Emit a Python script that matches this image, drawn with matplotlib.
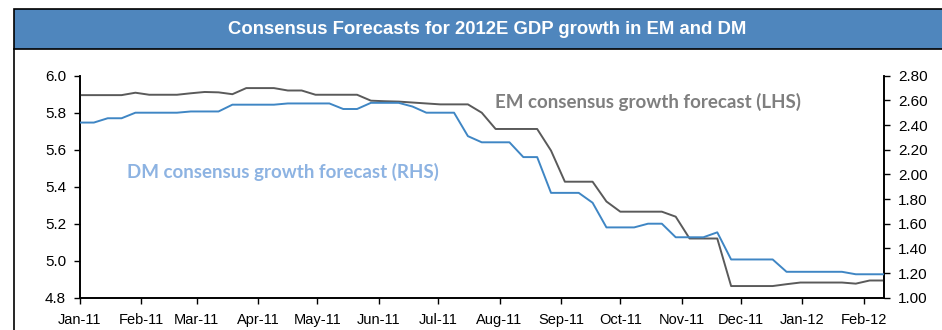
import matplotlib
matplotlib.use("Agg")
import matplotlib.pyplot as plt
import matplotlib.dates as mdates
import matplotlib.ticker as mticker
from matplotlib.patches import Rectangle
from matplotlib.lines import Line2D
import pandas as pd

# Weekly consensus readings, Jan 2011 - Feb 2012
dates = pd.date_range("2011-01-01", periods=59, freq="7D")

em_growth = [5.895, 5.895, 5.895, 5.895, 5.908, 5.897, 5.897, 5.897, 5.905, 5.912,
             5.910, 5.900, 5.933, 5.933, 5.933, 5.920, 5.920, 5.897, 5.897, 5.897,
             5.897, 5.865, 5.862, 5.860, 5.855, 5.850, 5.845, 5.845, 5.845, 5.800,
             5.712, 5.712, 5.712, 5.712, 5.595, 5.427, 5.427, 5.427, 5.320, 5.265,
             5.265, 5.265, 5.265, 5.238, 5.120, 5.120, 5.120, 4.863, 4.863, 4.863,
             4.863, 4.873, 4.882, 4.882, 4.882, 4.882, 4.876, 4.893, 4.893]

dm_growth = [2.42, 2.42, 2.455, 2.455, 2.50, 2.50, 2.50, 2.50, 2.51, 2.51,
             2.51, 2.565, 2.565, 2.565, 2.565, 2.575, 2.575, 2.575, 2.575, 2.53,
             2.53, 2.58, 2.58, 2.58, 2.55, 2.50, 2.50, 2.50, 2.31, 2.26,
             2.26, 2.26, 2.14, 2.14, 1.85, 1.85, 1.85, 1.77, 1.57, 1.57,
             1.57, 1.60, 1.60, 1.49, 1.49, 1.49, 1.53, 1.31, 1.31, 1.31,
             1.31, 1.21, 1.21, 1.21, 1.21, 1.21, 1.19, 1.19, 1.19]

left_ticks = [4.8, 5.0, 5.2, 5.4, 5.6, 5.8, 6.0]
right_ticks = [1.0, 1.2, 1.4, 1.6, 1.8, 2.0, 2.2, 2.4, 2.6, 2.8]

title = "Consensus Forecasts for 2012E GDP growth in EM and DM"
em_label = "EM consensus growth forecast (LHS)"
dm_label = "DM consensus growth forecast (RHS)"

SANS = ["Liberation Sans", "DejaVu Sans"]
W, H = 942, 330

fig = plt.figure(figsize=(W / 100, H / 100), dpi=100)
fig.patch.set_facecolor("white")

# Title band and outer frame
fig.patches.append(Rectangle((14 / W, (H - 48.5) / H), 1.0, 40 / H,
                             transform=fig.transFigure, facecolor="#4f86bd",
                             edgecolor="black", linewidth=1.2, zorder=1))
fig.lines.append(Line2D([14 / W, 14 / W], [0, (H - 48.5) / H],
                        transform=fig.transFigure, color="black", linewidth=1.2))
fig.text(487 / W, (H - 30) / H, title, color="white", fontsize=13.3,
         fontweight="bold", family=SANS, ha="center", va="center")

ax = fig.add_axes([80 / W, 32.3 / H, (884 - 80) / W, 222 / H])
ax2 = ax.twinx()

ax.plot(dates, em_growth, color="#5a5a5a", linewidth=1.4, zorder=3)
ax2.plot(dates, dm_growth, color="#3f86c4", linewidth=1.4, zorder=3)

ax.set_xlim(pd.Timestamp("2011-01-01"), pd.Timestamp("2012-02-11 06:00"))
ax.set_ylim(4.8, 6.0)
ax2.set_ylim(1.0, 2.8)
ax.set_yticks(left_ticks)
ax2.set_yticks(right_ticks)
ax.yaxis.set_major_formatter(mticker.FormatStrFormatter("%.1f"))
ax2.yaxis.set_major_formatter(mticker.FormatStrFormatter("%.2f"))
ax.xaxis.set_major_locator(mdates.MonthLocator())
ax.xaxis.set_major_formatter(mdates.DateFormatter("%b-%y"))

for a in (ax, ax2):
    a.spines["top"].set_visible(False)
    for s in ("left", "right", "bottom"):
        a.spines[s].set_color("black")
        a.spines[s].set_linewidth(1.2)
    a.tick_params(direction="out", length=4, width=1.0, colors="black",
                  labelsize=11, pad=6)
    for lab in a.get_yticklabels() + a.get_xticklabels():
        lab.set_family(SANS)
ax.tick_params(axis="x", pad=7, labelsize=10.5)

ax.text(648 / W, (H - 102) / H, em_label, transform=fig.transFigure,
        color="#7f7f7f", fontsize=13.5, fontweight="bold", family="Lato",
        ha="center", va="center")
ax.text(283 / W, (H - 172) / H, dm_label, transform=fig.transFigure,
        color="#8db3e2", fontsize=13.5, fontweight="bold", family="Lato",
        ha="center", va="center")

fig.savefig("out.png", dpi=100)
